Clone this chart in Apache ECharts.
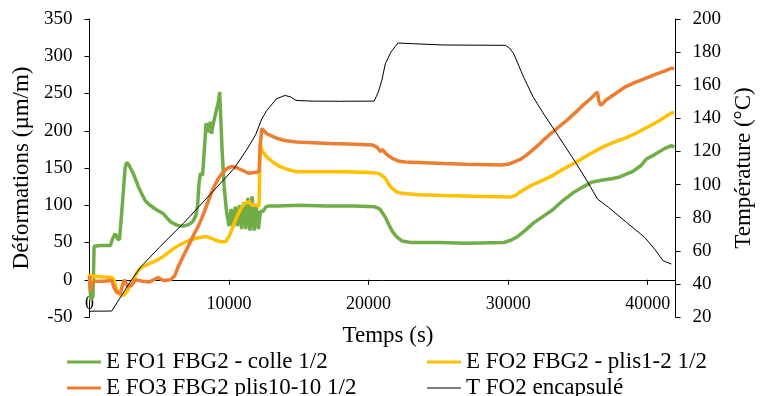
<!DOCTYPE html>
<html>
<head>
<meta charset="utf-8">
<script src="https://cdn.jsdelivr.net/npm/echarts@6/dist/echarts.min.js"></script>
<style>html,body{margin:0;padding:0;background:#fff}#c{width:763px;height:396px}</style>
</head>
<body>
<div id="c"></div>
<script>
// Series names
const seriesNames = ['E FO1 FBG2 - colle 1/2', 'E FO2 FBG2 - plis1-2 1/2', 'E FO3 FBG2 plis10-10 1/2', 'T FO2 encapsulé'];
const xTitle = 'Temps (s)';
const yLeftTitle = 'Déformations (µm/m)';
const yRightTitle = 'Température (°C)';

// [time (s), deformation (µm/m)]
const fo1 = [[0,0],[100,-28],[250,-22],[330,45],[800,46],[1500,46],[1650,55],[1850,62],[2000,55],[2150,54],[2350,100],[2550,150],[2650,157],[2800,155],[3150,142],[3500,125],[3750,115],[4000,106],[4330,100],[4800,94],[5270,89],[5600,82],[5860,77],[6300,73],[6700,72],[7100,74],[7400,78],[7600,85],[7750,100],[7850,130],[7950,143],[8100,140],[8250,180],[8350,210],[8450,205],[8550,198],[8650,212],[8750,196],[8850,208],[8950,210],[9100,228],[9250,240],[9330,252],[9400,220],[9500,175],[9650,125],[9800,95],[9880,85],[10000,72],[10150,95],[10300,70],[10450,98],[10600,72],[10750,100],[10900,68],[11050,104],[11200,68],[11350,110],[11500,66],[11650,112],[11800,66],[11950,100],[12100,68],[12250,92],[12450,92],[12600,97],[12800,99],[13500,99],[15000,100],[17000,99],[19000,99],[20400,98],[20800,95],[21200,84],[21500,72],[21700,65],[22000,58],[22400,52],[23000,50],[25000,50],[27000,49],[29700,50],[30200,53],[30600,57],[31200,66],[31800,76],[32500,85],[33200,94],[33900,106],[34600,116],[35300,124],[36000,131],[36800,134],[37500,136],[38000,138],[38900,145],[39500,153],[39900,162],[40500,168],[41200,176],[41700,180],[41900,178]];

const fo2 = [[0,8],[80,-3],[200,5],[800,4],[1600,3],[1750,0],[1970,-14],[2200,-20],[2450,-21],[2680,-16],[2900,-8],[3150,0],[3400,10],[3620,15],[4000,19],[4330,22],[4800,26],[5270,31],[5700,37],[6200,44],[6700,49],[7160,53],[7700,56],[8340,58],[8700,56],[9050,53],[9400,51],[9750,51],[10000,58],[10250,70],[10460,80],[10700,90],[10930,98],[11100,102],[11400,105],[11650,100],[11900,100],[12150,99],[12230,182],[12400,172],[12700,165],[13200,157],[13650,152],[14200,148],[14830,145],[16000,145],[18400,145],[20000,144],[20700,143],[20950,140],[21200,136],[21450,128],[21670,123],[22000,118],[22400,116],[23500,114],[25400,113],[27500,112],[30160,111],[30500,113],[30870,118],[31600,126],[32300,132],[33000,138],[33900,148],[34900,158],[35800,168],[36770,178],[37500,184],[38400,190],[39200,197],[40000,205],[40800,213],[41300,219],[41720,224],[41900,224]];

const fo3 = [[0,5],[60,-15],[150,-5],[400,-2],[1000,-2],[1600,-1],[1750,-10],[1950,-17],[2200,-18],[2400,-5],[2500,0],[2700,-8],[3000,-8],[3300,0],[3800,-2],[4300,-3],[4900,3],[5300,-1],[5800,0],[6100,5],[6300,15],[6700,31],[7000,42],[7400,58],[7800,72],[8100,85],[8500,105],[8800,120],[9200,135],[9500,143],[9900,150],[10230,152],[10600,150],[10950,147],[11400,143],[11800,144],[12150,145],[12230,180],[12350,203],[12700,196],[13400,190],[14000,187],[14800,185],[16000,184],[17200,183],[19000,182],[20250,181],[20600,178],[20850,172],[21000,175],[21200,170],[21450,166],[21700,163],[22200,159],[22600,158],[24000,157],[25400,156],[27000,155],[29500,154],[30000,155],[30400,158],[30900,162],[31300,167],[32000,178],[32500,187],[33300,200],[34200,214],[34800,224],[35350,234],[35900,243],[36400,252],[36500,240],[36650,234],[37000,241],[37700,250],[38400,259],[39100,265],[39800,270],[40600,276],[41200,280],[41720,284],[41900,283]];

// [time (s), temperature (°C)]
const tFo2 = [[0,23.5],[1600,23.6],[2000,29],[2900,41],[3700,50.5],[5000,62],[6700,76.3],[8700,94.5],[10350,109.6],[11300,121.5],[11900,130],[12350,139.7],[12700,144.7],[13400,151.8],[14000,153.8],[14400,153],[14800,150.8],[16000,150.4],[18000,150.3],[20400,150.4],[20700,156],[20950,163],[21200,173],[21600,180],[22100,185.5],[23100,185.1],[25400,184.3],[29800,184.1],[30100,182.5],[30400,179],[31100,165],[31800,152.8],[32600,142],[33500,130.6],[34200,121.5],[34900,112.5],[35700,101.5],[36400,91.3],[37200,86.2],[38500,77],[39800,68],[40500,61],[41100,54],[41700,52]];

// Axis ranges
const xRange = {min: 0, max: 42000, interval: 10000};
const yLeftRange = {min: -50, max: 350, interval: 50};
const yRightRange = {min: 20, max: 200, interval: 20};

const COLORS = ['#70AD47', '#FFC000', '#ED7D31', '#000000'];
const FONT = '"Liberation Serif", "Times New Roman", serif';
const GRID = {left: 89.5, right: 79, top: 19, bottom: 79};
const plotH = 396 - GRID.top - GRID.bottom;
// shift the x axis up to the y = 0 level of the left axis
const xOffset = -plotH * (0 - yLeftRange.min) / (yLeftRange.max - yLeftRange.min);

const chart = echarts.init(document.getElementById('c'), null, {renderer: 'canvas'});

const axisCommon = {
  axisLine: {show: true, lineStyle: {color: '#000', width: 1}},
  axisTick: {show: true, inside: false, length: 5, lineStyle: {color: '#000', width: 1}},
  splitLine: {show: false},
  nameTextStyle: {color: '#000', fontFamily: FONT, fontSize: 23},
};

function legendItem(idx, left, top, h) {
  return {
    data: [seriesNames[idx]], orient: 'horizontal', left: left, top: top,
    icon: 'rect', itemWidth: 34, itemHeight: h, itemGap: 0, padding: 0,
    itemStyle: {color: COLORS[idx]},
    textStyle: {color: '#000', fontFamily: FONT, fontSize: 23, lineHeight: 26}
  };
}

chart.setOption({
  animation: false,
  backgroundColor: '#fff',
  grid: Object.assign({containLabel: false}, GRID),
  legend: [
    legendItem(0, 67, 349, 3),
    legendItem(2, 67, 375, 3),
    legendItem(1, 427, 349, 3),
    legendItem(3, 427, 375, 1)
  ],
  graphic: [{
    type: 'text', x: 388, y: 336, silent: true,
    style: {text: xTitle, fill: '#000', font: '23px ' + FONT, textAlign: 'center', textVerticalAlign: 'middle'}
  }],
  xAxis: Object.assign({}, axisCommon, {
    type: 'value', min: xRange.min, max: xRange.max, interval: xRange.interval,
    position: 'bottom', offset: xOffset,
    axisLine: {show: true, onZero: false, lineStyle: {color: '#000', width: 1}},
    axisLabel: {color: '#000', fontFamily: FONT, fontSize: 18, margin: 16, showMaxLabel: false,
      formatter: v => (v % xRange.interval === 0 ? String(v) : '')}
  }),
  yAxis: [
    Object.assign({}, axisCommon, {
      type: 'value', position: 'left', min: yLeftRange.min, max: yLeftRange.max, interval: yLeftRange.interval,
      name: yLeftTitle, nameLocation: 'middle', nameGap: 55, nameRotate: 90,
      axisLabel: {color: '#000', fontFamily: FONT, fontSize: 19, margin: 17}
    }),
    Object.assign({}, axisCommon, {
      type: 'value', position: 'right', min: yRightRange.min, max: yRightRange.max, interval: yRightRange.interval,
      name: yRightTitle, nameLocation: 'middle', nameGap: 55, nameRotate: 90,
      axisLabel: {color: '#000', fontFamily: FONT, fontSize: 19, margin: 17}
    })
  ],
  series: [
    {name: seriesNames[0], type: 'line', data: fo1, yAxisIndex: 0, symbol: 'none',
     lineStyle: {color: COLORS[0], width: 3.5}, itemStyle: {color: COLORS[0]}, z: 2},
    {name: seriesNames[1], type: 'line', data: fo2, yAxisIndex: 0, symbol: 'none',
     lineStyle: {color: COLORS[1], width: 3.5}, itemStyle: {color: COLORS[1]}, z: 3},
    {name: seriesNames[2], type: 'line', data: fo3, yAxisIndex: 0, symbol: 'none',
     lineStyle: {color: COLORS[2], width: 3.5}, itemStyle: {color: COLORS[2]}, z: 4},
    {name: seriesNames[3], type: 'line', data: tFo2, yAxisIndex: 1, symbol: 'none',
     lineStyle: {color: COLORS[3], width: 1}, itemStyle: {color: COLORS[3]}, z: 5}
  ]
});
</script>
</body>
</html>
